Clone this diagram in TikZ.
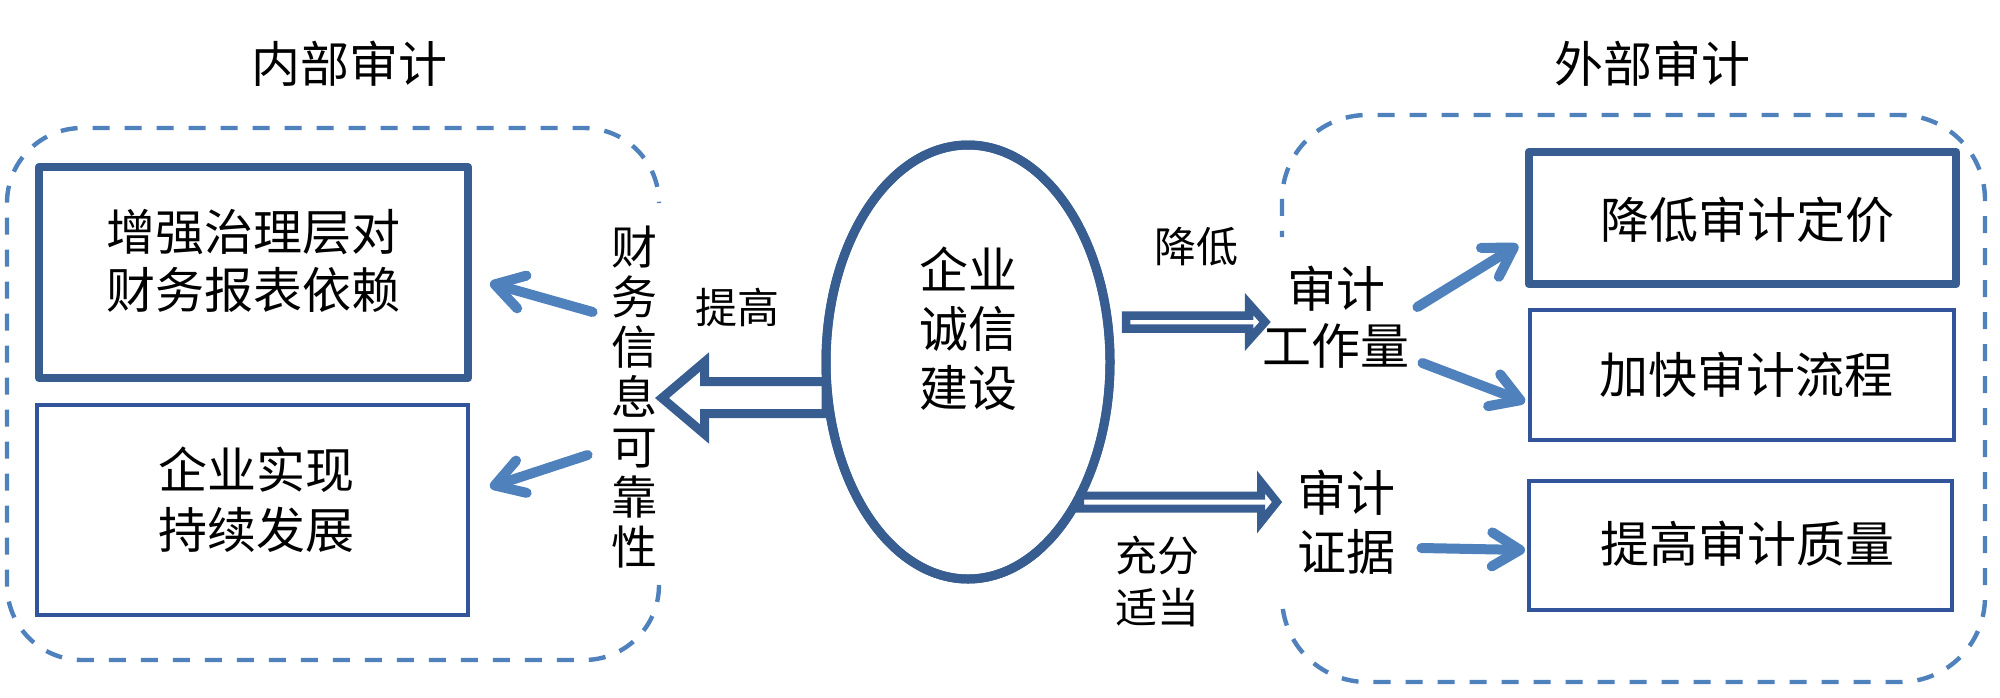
\documentclass[tikz,border=0pt]{standalone}
\usepackage{fontspec}
\setmainfont{Noto Sans CJK SC}
\usetikzlibrary{arrows.meta,calc,shapes.geometric}
\definecolor{dkblue}{RGB}{56,94,145}
\definecolor{tnblue}{RGB}{50,84,155}
\definecolor{ltblue}{RGB}{79,129,189}
\tikzset{
  thickbox/.style={draw=dkblue, line width=4.2pt, line join=round, rectangle, inner sep=0pt, outer sep=0pt},
  thinbox/.style={draw=tnblue, line width=2pt, rectangle, inner sep=0pt, outer sep=0pt},
  bigtxt/.style={font=\fontsize{24.5pt}{29pt}\selectfont, align=center, inner sep=0pt},
  smalltxt/.style={font=\fontsize{21pt}{26pt}\selectfont, align=center, inner sep=0pt},
  verttxt/.style={font=\fontsize{23pt}{25pt}\selectfont, align=center, inner sep=0pt},
  dashbox/.style={draw=ltblue, line width=2.2pt, dash pattern=on 8.5pt off 7.5pt},
  fatarrow/.style={draw=dkblue, fill=white, line join=miter},
  thinarrow/.style={draw=ltblue, line width=5pt, line cap=round,
    -{Straight Barb[length=14pt,width=17pt,round]}},
}
\begin{document}
\begin{tikzpicture}[x=0.5pt,y=-0.5pt]
\useasboundingbox (0,0) rectangle (2000,697);
\fill[white] (0,0) rectangle (2000,697);

% titles
\node[bigtxt] (tin) at (349,64) {内部审计};
\node[bigtxt] (tout) at (1652,64) {外部审计};

% dashed containers (partly hidden sides)
\draw[dashbox, rounded corners=37.5pt] (659,585) -- (659,660) -- (7,660) -- (7,128) -- (659,128) -- (659,203);
\draw[dashbox, rounded corners=42.5pt, dash phase=8.5pt] (1282,600) -- (1282,682) -- (1985,682) -- (1985,115) -- (1282,115) -- (1282,237);

% left boxes
\node[thickbox, minimum width=214.5pt, minimum height=105.5pt] (L1) at (253.5,272.5) {};
\node[bigtxt] (L1t) at (253,261) {增强治理层对\\财务报表依赖};
\node[thinbox, minimum width=215.5pt, minimum height=105pt] (L2) at (252.5,510) {};
\node[bigtxt, font=\fontsize{24.5pt}{30pt}\selectfont] (L2t) at (256,500) {企业实现\\持续发展};

% right boxes
\node[thickbox, minimum width=213.5pt, minimum height=66pt] (R1) at (1742.5,218) {};
\node[bigtxt] (R1t) at (1747,220) {降低审计定价};
\node[thinbox, minimum width=212pt, minimum height=65pt] (R2) at (1742,375) {};
\node[bigtxt] (R2t) at (1746,375) {加快审计流程};
\node[thinbox, minimum width=211.5pt, minimum height=64.5pt] (R3) at (1740.5,545.5) {};
\node[bigtxt] (R3t) at (1747,544) {提高审计质量};

% middle texts
\node[verttxt] (vt) at (634,397) {财\\务\\信\\息\\可\\靠\\性};
\node[smalltxt] (up) at (737,307) {提高};
\node[smalltxt] (down) at (1196,247) {降低};
\node[smalltxt] (suff) at (1157,581) {充分\\适当};
\node[bigtxt, font=\fontsize{24.5pt}{28.5pt}\selectfont] (wl) at (1336,317) {审计\\工作量};
\node[bigtxt, font=\fontsize{24.5pt}{29.5pt}\selectfont] (ev) at (1346,522) {审计\\证据};

% ellipse
\node[ellipse, draw=dkblue, line width=4.5pt, minimum width=142pt, minimum height=217pt, inner sep=0pt, outer sep=0pt] (ell) at (968,362) {};

% hollow block arrows from the ellipse
\begin{scope}[shift={(ell.center)}]
  \draw[fatarrow, line width=4.5pt] (-142,19.5) -- (-263.5,19.5) -- (-263.5,0) -- (-306,36) -- (-263.5,72) -- (-263.5,51.5) -- (-142,51.5) -- cycle;
  \draw[fatarrow, line width=4.25pt] (158,-46.5) -- (281,-46.5) -- (281,-58) -- (297,-40) -- (281,-22) -- (281,-33.5) -- (158,-33.5) -- cycle;
  \draw[fatarrow, line width=4pt] (112,133.5) -- (293,133.5) -- (293,120) -- (309,140) -- (293,160) -- (293,146.5) -- (112,146.5) -- cycle;
\end{scope}
\node[ellipse, draw=dkblue, line width=4.5pt, minimum width=142pt, minimum height=217pt, inner sep=0pt, outer sep=0pt] at (ell.center) {};
\node[bigtxt, font=\fontsize{24.5pt}{29.5pt}\selectfont] (ellt) at (968,329) {企业\\诚信\\建设};

% thin arrows
\draw[thinarrow] ($(vt.west)+(-18,-85)$) -- ($(L1.east)+(22,10.5)$);
\draw[thinarrow] ($(vt.west)+(-23,58)$) -- ($(L2.east)+(22,-23)$);
\draw[thinarrow] ($(wl.east)+(7.5,-10)$) -- ($(R1.west)+(-11,27)$);
\draw[thinarrow] ($(wl.east)+(12.5,46)$) -- ($(R2.west)+(-5,27)$);
\draw[thinarrow] ($(ev.east)+(26,26)$) -- ($(R3.west)+(-4,4.5)$);
\end{tikzpicture}
\end{document}
